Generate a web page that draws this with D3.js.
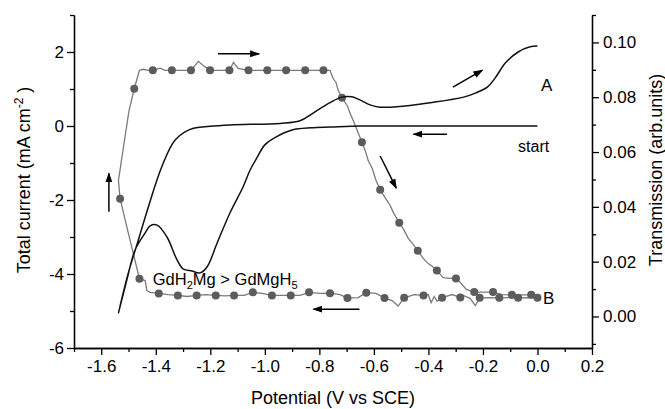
<!DOCTYPE html>
<html>
<head>
<meta charset="utf-8">
<script src="https://cdn.jsdelivr.net/npm/d3@7"></script>
<style>
  body { margin: 0; background: #fff; }
  svg { font-family: "Liberation Sans", Arial, sans-serif; }
</style>
</head>
<body>
<svg id="chart" width="665" height="409"></svg>
<script>
const w = 665;
const h = 409;

// cyclic voltammogram: sweep starts at 0 V, goes negative, comes back (V, mA cm-2)
const cvPotential = [0.0, -0.25, -0.5, -0.65, -0.76, -0.83, -0.9, -0.96, -1.0, -1.03, -1.054, -1.08,
  -1.128, -1.175, -1.212, -1.238, -1.267, -1.3, -1.322, -1.359, -1.395, -1.421, -1.439, -1.476,
  -1.506, -1.537, -1.501, -1.464, -1.427, -1.378, -1.329, -1.274, -1.201, -1.128, -0.944, -0.871,
  -0.823, -0.761, -0.718, -0.681, -0.65, -0.614, -0.577, -0.516, -0.394, -0.271, -0.228, -0.184,
  -0.155, -0.118, -0.071, -0.027, 0.0];
const cvCurrent = [0.0, 0.0, 0.0, 0.0, -0.03, -0.05, -0.11, -0.3, -0.51, -0.87, -1.19, -1.65,
  -2.35, -3.16, -3.81, -3.97, -3.92, -3.86, -3.62, -3.0, -2.68, -2.7, -2.89, -3.35,
  -4.16, -5.05, -3.98, -3.08, -2.18, -1.1, -0.38, -0.09, -0.01, 0.03, 0.07, 0.14,
  0.35, 0.63, 0.78, 0.79, 0.7, 0.57, 0.51, 0.52, 0.63, 0.78, 0.89, 1.05,
  1.3, 1.7, 2.0, 2.14, 2.16];

// optical transmission trace (V, arb. units)
const trPotential = [0.0, -0.034, -0.071, -0.107, -0.14, -0.173, -0.212, -0.228, -0.247, -0.272,
  -0.283, -0.313, -0.335, -0.35, -0.368, -0.379, -0.39, -0.401, -0.418, -0.452, -0.489, -0.511,
  -0.533, -0.561, -0.592, -0.628, -0.658, -0.697, -0.724, -0.761, -0.797, -0.838, -0.871, -0.905,
  -0.94, -0.974, -1.01, -1.044, -1.076, -1.113, -1.146, -1.18, -1.216, -1.25, -1.285, -1.319,
  -1.355, -1.389, -1.421, -1.433, -1.439, -1.46, -1.494, -1.531, -1.537, -1.515, -1.498, -1.479,
  -1.46, -1.446, -1.427, -1.411, -1.384, -1.366, -1.341, -1.307, -1.271, -1.244, -1.226, -1.201,
  -1.164, -1.13, -1.115, -1.098, -1.06, -1.025, -0.991, -0.955, -0.922, -0.889, -0.852, -0.819,
  -0.785, -0.761, -0.75, -0.739, -0.731, -0.717, -0.698, -0.687, -0.676, -0.661, -0.644, -0.632,
  -0.621, -0.606, -0.592, -0.577, -0.559, -0.54, -0.529, -0.507, -0.489, -0.474, -0.456, -0.439,
  -0.419, -0.401, -0.386, -0.369, -0.346, -0.32, -0.299, -0.283, -0.261, -0.232, -0.199, -0.163,
  -0.129, -0.094, -0.063, -0.023, 0.0];
const trValue = [0.0068, 0.0069, 0.0068, 0.0069, 0.0068, 0.0069, 0.0068, 0.004, 0.0066, 0.0077,
  0.0069, 0.008, 0.0073, 0.0068, 0.0055, 0.0073, 0.0051, 0.008, 0.0077, 0.008, 0.0068, 0.0038,
  0.0058, 0.0067, 0.0084, 0.0087, 0.0069, 0.0067, 0.008, 0.0085, 0.0084, 0.0088, 0.0077, 0.0077,
  0.0077, 0.0077, 0.0084, 0.0088, 0.0077, 0.0077, 0.0075, 0.0077, 0.008, 0.0077, 0.0073, 0.0077,
  0.008, 0.0084, 0.0088, 0.0095, 0.0131, 0.0138, 0.0277, 0.043, 0.0496, 0.0642, 0.0752, 0.0831,
  0.0898, 0.0902, 0.0898, 0.0898, 0.0906, 0.0898, 0.0898, 0.0898, 0.0898, 0.0931, 0.0916, 0.0898,
  0.0898, 0.0898, 0.0927, 0.0905, 0.0898, 0.0898, 0.0898, 0.0898, 0.0898, 0.0898, 0.0898, 0.0898,
  0.0898, 0.0898, 0.0869, 0.0854, 0.0825, 0.0798, 0.077, 0.0741, 0.0715, 0.0679, 0.0636, 0.0606,
  0.0569, 0.054, 0.0496, 0.0462, 0.0434, 0.0405, 0.038, 0.0342, 0.0314, 0.0285, 0.0263, 0.024,
  0.0212, 0.0193, 0.0183, 0.0168, 0.0142, 0.0139, 0.0139, 0.0124, 0.0099, 0.0089, 0.0089, 0.0089,
  0.008, 0.0079, 0.0079, 0.0079, 0.0077];

// symbols sitting on the transmission trace
const dotPotential = [0.0, -0.071, -0.14, -0.212, -0.283, -0.35, -0.418, -0.489, -0.561, -0.628,
  -0.697, -0.761, -0.838, -0.905, -0.974, -1.044, -1.113, -1.18, -1.25, -1.319, -1.389, -1.46,
  -1.531, -1.479, -1.411, -1.341, -1.271, -1.201, -1.13, -1.06, -0.991, -0.922, -0.852, -0.785,
  -0.717, -0.644, -0.577, -0.507, -0.439, -0.369, -0.299, -0.232, -0.163, -0.094, -0.023];
const dotValue = [0.0068, 0.0068, 0.0068, 0.0068, 0.0069, 0.0068, 0.0077, 0.0068, 0.0067, 0.0087,
  0.0067, 0.0085, 0.0088, 0.0077, 0.0077, 0.0088, 0.0077, 0.0077, 0.0077, 0.0077, 0.0084, 0.0138,
  0.043, 0.0831, 0.0898, 0.0898, 0.0898, 0.0898, 0.0898, 0.0898, 0.0898, 0.0898, 0.0898, 0.0898,
  0.0798, 0.0636, 0.0462, 0.0342, 0.024, 0.0168, 0.0139, 0.0089, 0.0089, 0.0079, 0.0079];

const xTicks = [-1.6, -1.4, -1.2, -1.0, -0.8, -0.6, -0.4, -0.2, 0.0, 0.2];
const xMinor = [-1.7, -1.5, -1.3, -1.1, -0.9, -0.7, -0.5, -0.3, -0.1, 0.1];
const yTicks = [-6, -4, -2, 0, 2];
const yMinor = [-5, -3, -1, 1, 3];
const tTicks = [0.0, 0.02, 0.04, 0.06, 0.08, 0.10];
const tMinor = [-0.01, 0.01, 0.03, 0.05, 0.07, 0.09, 0.11];

// sweep direction arrows [x1, y1, x2, y2] in (V, mA cm-2)
const arrows = [
  [-1.172, 1.95, -1.021, 1.95],
  [-0.31, 1.05, -0.202, 1.51],
  [-0.332, -0.22, -0.455, -0.22],
  [-0.577, -0.81, -0.518, -1.68],
  [-0.653, -4.95, -0.822, -4.95],
  [-1.572, -2.32, -1.572, -1.28]
];

const svg = d3.select('#chart');

const x = d3.scaleLinear().domain([-1.7, 0.2]).range([74, 592]);
const y = d3.scaleLinear().domain([-6, 3]).range([348, 15]);
const t = d3.scaleLinear().domain([-0.0115, 0.11]).range([348, 15]);

// arrow head
svg.append('defs').append('marker')
  .attr('id', 'head')
  .attr('viewBox', '0 0 10 10')
  .attr('refX', 9).attr('refY', 5)
  .attr('markerWidth', 10).attr('markerHeight', 10)
  .attr('markerUnits', 'userSpaceOnUse')
  .attr('orient', 'auto')
  .append('path')
  .attr('d', 'M0,1.5 L10,5 L0,8.5 Z')
  .attr('fill', '#000');

// bottom axis
const xAxis = d3.axisBottom(x).tickValues(xTicks).tickSize(7).tickSizeOuter(0)
  .tickPadding(5).tickFormat(d => d.toFixed(1));
svg.append('g').attr('transform', 'translate(0,348)').call(xAxis).attr('id', 'x-axis');
svg.append('g').attr('transform', 'translate(0,348)')
  .call(d3.axisBottom(x).tickValues(xMinor).tickSize(4).tickSizeOuter(0).tickFormat(''));

// left axis
const yAxis = d3.axisLeft(y).tickValues(yTicks).tickSize(7).tickSizeOuter(0)
  .tickPadding(3).tickFormat(d => String(d));
svg.append('g').attr('transform', 'translate(74,0)').call(yAxis).attr('id', 'y-axis');
svg.append('g').attr('transform', 'translate(74,0)')
  .call(d3.axisLeft(y).tickValues(yMinor).tickSize(4).tickSizeOuter(0).tickFormat(''));

// right axis
const tAxis = d3.axisRight(t).tickValues(tTicks).tickSize(7).tickSizeOuter(0)
  .tickPadding(4).tickFormat(d => d.toFixed(2));
svg.append('g').attr('transform', 'translate(592,0)').call(tAxis).attr('id', 't-axis');
svg.append('g').attr('transform', 'translate(592,0)')
  .call(d3.axisRight(t).tickValues(tMinor).tickSize(4).tickSizeOuter(0).tickFormat(''));

svg.selectAll('.domain, .tick line').attr('stroke', '#000').attr('stroke-width', 1.3);
svg.selectAll('.tick text').attr('font-size', 17).attr('fill', '#000')
  .attr('font-family', '"Liberation Sans", Arial, sans-serif');

// transmission trace
const trPoints = trPotential.map((p, i) => [p, trValue[i]]);
svg.append('path')
  .datum(trPoints)
  .attr('fill', 'none')
  .attr('stroke', '#7a7a7a')
  .attr('stroke-width', 1.3)
  .attr('d', d3.line().x(d => x(d[0])).y(d => t(d[1])));

svg.selectAll('circle.dot')
  .data(dotPotential.map((p, i) => [p, dotValue[i]]))
  .enter()
  .append('circle')
  .attr('class', 'dot')
  .attr('cx', d => x(d[0]))
  .attr('cy', d => t(d[1]))
  .attr('r', 4)
  .attr('fill', '#5c5c5c');

// current
const cvPoints = cvPotential.map((p, i) => [p, cvCurrent[i]]);
svg.append('path')
  .datum(cvPoints)
  .attr('fill', 'none')
  .attr('stroke', '#111')
  .attr('stroke-width', 1.5)
  .attr('d', d3.line().curve(d3.curveCatmullRom.alpha(0.5)).x(d => x(d[0])).y(d => y(d[1])));

// arrows
svg.selectAll('line.arrow')
  .data(arrows)
  .enter()
  .append('line')
  .attr('class', 'arrow')
  .attr('x1', d => x(d[0])).attr('y1', d => y(d[1]))
  .attr('x2', d => x(d[2])).attr('y2', d => y(d[3]))
  .attr('stroke', '#000')
  .attr('stroke-width', 1.5)
  .attr('marker-end', 'url(#head)');

// labels
svg.append('text').attr('x', x(0.034)).attr('y', y(1.11)).attr('dy', '0.35em')
  .attr('text-anchor', 'middle').attr('font-size', 17).text('A');
svg.append('text').attr('x', x(-0.071)).attr('y', y(-0.56)).attr('dy', '0.35em')
  .attr('font-size', 16).text('start');
svg.append('text').attr('x', x(0.041)).attr('y', y(-4.65)).attr('dy', '0.35em')
  .attr('text-anchor', 'middle').attr('font-size', 17).text('B');

const comp = svg.append('text').attr('x', x(-1.411)).attr('y', y(-4.3)).attr('font-size', 16.5);
comp.append('tspan').text('GdH');
comp.append('tspan').attr('dy', 4).attr('font-size', 11).text('2');
comp.append('tspan').attr('dy', -4).text('Mg > GdMgH');
comp.append('tspan').attr('dy', 4).attr('font-size', 11).text('5');

// axis titles
svg.append('text').attr('x', 333).attr('y', 404).attr('text-anchor', 'middle')
  .attr('font-size', 18).text('Potential (V vs SCE)');

const yt = svg.append('text').attr('transform', 'translate(30,180) rotate(-90)')
  .attr('text-anchor', 'middle').attr('font-size', 18);
yt.append('tspan').text('Total current (mA cm');
yt.append('tspan').attr('dy', -7).attr('font-size', 12).text('-2');
yt.append('tspan').attr('dy', 7).text(' )');

svg.append('text').attr('transform', 'translate(662,170) rotate(-90)')
  .attr('text-anchor', 'middle').attr('font-size', 18).text('Transmission (arb.units)');
</script>
</body>
</html>
